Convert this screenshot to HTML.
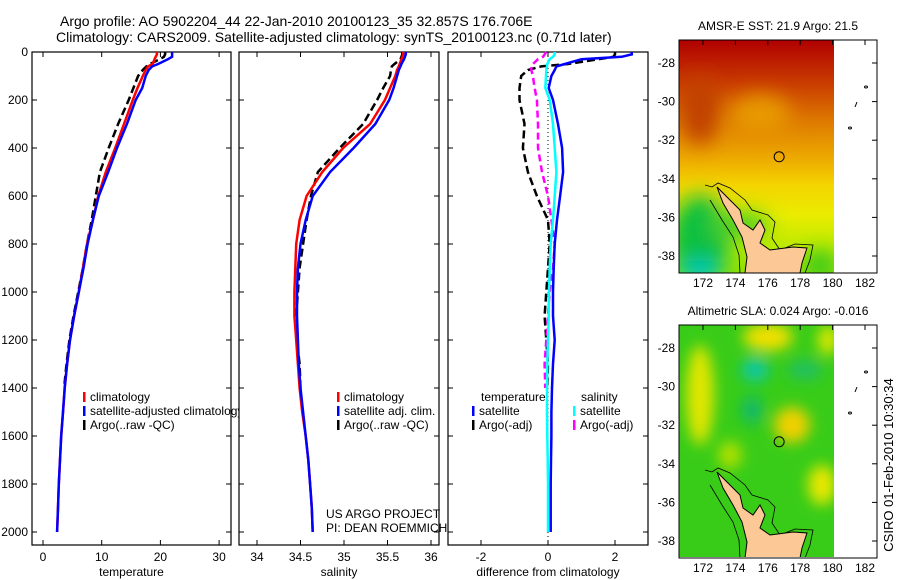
<!DOCTYPE html>
<html><head><meta charset="utf-8"><style>
html,body{margin:0;padding:0;background:#fff}
svg{display:block;font-family:"Liberation Sans",sans-serif}
</style></head><body>
<svg id="fig" width="900" height="580" viewBox="0 0 900 580" xmlns="http://www.w3.org/2000/svg">
<defs>
<filter id="blur" x="-20%" y="-20%" width="140%" height="140%"><feGaussianBlur stdDeviation="10"/></filter>
<filter id="blur2" x="-20%" y="-20%" width="140%" height="140%"><feGaussianBlur stdDeviation="7"/></filter>
<linearGradient id="sstg" x1="0" y1="0" x2="0" y2="1">
<stop offset="0" stop-color="#b00000"/><stop offset="0.18" stop-color="#c83a00"/><stop offset="0.35" stop-color="#de7a00"/>
<stop offset="0.52" stop-color="#eeae00"/><stop offset="0.62" stop-color="#f4d400"/><stop offset="0.75" stop-color="#eaec00"/>
<stop offset="0.88" stop-color="#c0ea00"/><stop offset="1" stop-color="#90e000"/></linearGradient>
<clipPath id="m1clip"><rect x="679" y="40" width="155" height="233"/></clipPath>
<clipPath id="m2clip"><rect x="679" y="325" width="155" height="232"/></clipPath>
</defs>
<text x="60" y="26" font-size="14">Argo profile: AO 5902204_44 22-Jan-2010 20100123_35 32.857S 176.706E</text>
<text x="56" y="42" font-size="14">Climatology: CARS2009. Satellite-adjusted climatology: synTS_20100123.nc (0.71d later)</text>
<g id="panels"></g>
<g id="maps"></g>
<text x="0" y="0" font-size="13" text-anchor="middle" transform="translate(893,465) rotate(-90)">CSIRO 01-Feb-2010 10:30:34</text>
</svg>
<script>
// ---- data ----
const depths = [0,10,20,30,50,60,75,100,150,200,300,400,500,600,700,800,900,1000,1100,1200,1300,1400,1500,1600,1700,1800,1900,2000];
const tempClim = [19.4,19.4,19.2,19.0,18.7,17.9,17.5,17.0,16.1,15.3,13.8,12.3,10.7,9.4,8.5,7.5,6.8,6.1,5.3,4.6,4.1,3.7,3.4,3.1,2.9,2.7,2.55,2.4];
const tempSat  = [22.0,22.0,22.0,21.3,19.6,18.6,18.0,17.5,16.9,15.8,14.3,12.6,11.1,9.5,8.5,7.6,6.9,6.1,5.3,4.6,4.1,3.7,3.4,3.1,2.9,2.7,2.55,2.4];
const tempArgo = [20.8,20.8,20.6,19.9,18.2,17.6,17.0,16.2,15.4,14.6,12.8,11.2,9.7,9.0,8.3,7.5,6.8,6.0,5.2,4.5,4.0,3.6];
const salClim = [35.68,35.68,35.67,35.66,35.64,35.63,35.61,35.59,35.53,35.47,35.30,34.99,34.75,34.57,34.49,34.45,34.44,34.43,34.43,34.45,34.47,34.49,34.52,34.56,34.59,34.61,34.63,34.64];
const salSat  = [35.71,35.71,35.70,35.69,35.66,35.65,35.63,35.61,35.57,35.52,35.36,35.11,34.84,34.64,34.56,34.50,34.47,34.46,34.46,34.47,34.48,34.50,34.53,34.56,34.59,34.61,34.63,34.64];
const salArgo = [35.67,35.67,35.66,35.65,35.58,35.55,35.54,35.53,35.45,35.38,35.22,34.95,34.70,34.62,34.57,34.53,34.49,34.47,34.45,34.46,34.49,34.50];
const dTempSat  = [2.5,2.5,2.2,1.0,0.5,0.25,0.2,0.1,0.02,0.15,0.3,0.42,0.45,0.36,0.27,0.2,0.17,0.15,0.15,0.2,0.15,0.12,0.1,0.1,0.09,0.08,0.08,0.08];
const dTempArgo = [2.0,2.0,1.95,1.5,0.6,-0.2,-0.6,-0.8,-0.85,-0.85,-0.7,-0.75,-0.6,-0.33,0.0,0.05,0.0,-0.05,-0.1,-0.05,0.0,-0.02];
const dSalSat  = [0.2,0.2,0.15,0.05,-0.02,-0.03,-0.05,-0.06,-0.08,0.05,0.15,0.2,0.25,0.2,0.15,0.08,0.05,0.03,0.02,0.0,-0.02,-0.03,-0.03,-0.02,-0.01,0.0,0.0,0.0];
const dSalArgo = [-0.05,-0.1,-0.15,-0.3,-0.45,-0.5,-0.5,-0.45,-0.4,-0.33,-0.3,-0.3,-0.18,0.0,0.1,0.2,0.15,0.05,0.0,-0.05,-0.1,-0.08];
const depthTicks = [0,200,400,600,800,1000,1200,1400,1600,1800,2000];
const tempTicks = [0,10,20,30];
const salTicks = [34,34.5,35,35.5,36];
const diffTicks = [-2,0,2];
const latTicks = [-28,-30,-32,-34,-36,-38];
const lonTicks = [172,174,176,178,180,182];

const NS = "http://www.w3.org/2000/svg";
function mk(tag, attrs, parent){const e=document.createElementNS(NS,tag);for(const k in attrs)e.setAttribute(k,attrs[k]);parent.appendChild(e);return e;}
const yD = d => 52 + d*0.24;
const panelsG = document.getElementById('panels');

function panel(name, x0, x1, xs, ticks, title, ylabels){
  const g = mk('g',{},panelsG);
  
  
  const r = mk('rect',{x:x0,y:52,width:x1-x0,height:493,fill:'#fff',stroke:'#000','stroke-width':1.2},g);
  
  
  ticks.forEach(t=>{
    const x=xs(t);
    mk('line',{x1:x,x2:x,y1:52,y2:57,stroke:'#000'},g);
    mk('line',{x1:x,x2:x,y1:545,y2:540,stroke:'#000'},g);
    const tl = mk('text',{x:x,y:561,'font-size':12,'text-anchor':'middle'},g);
    tl.textContent = t;
    
    
  });
  depthTicks.forEach(d=>{
    const y=yD(d);
    mk('line',{x1:x0,x2:x0+5,y1:y,y2:y,stroke:'#000'},g);
    mk('line',{x1:x1,x2:x1-5,y1:y,y2:y,stroke:'#000'},g);
    if(ylabels){
      const tl = mk('text',{x:28,y:y+4,'font-size':12,'text-anchor':'end'},g);
      tl.textContent = d;
      
      
    }
  });
  const at = mk('text',{x:(x0+x1)/2,y:576,'font-size':12,'text-anchor':'middle'},g);
  at.textContent = title;
  
  
  return g;
}
function series(g, name, vals, xs, color, dash, w){
  const pts = vals.map((v,i)=>xs(v).toFixed(1)+','+yD(depths[i]).toFixed(1)).join(' ');
  const p = mk('polyline',{points:pts,fill:'none',stroke:color,'stroke-width':w||2.5},g);
  if(dash) p.setAttribute('stroke-dasharray', dash);
  
  
}
function legendRow(g, name, x, y, color, label){
  const m = mk('rect',{x:x,y:y-6,width:2.5,height:10,fill:color},g);
  
  
  const t = mk('text',{x:x+7,y:y+3,'font-size':12},g);
  t.textContent = label;
  
  
}

// temperature
const xT = v => 43 + v*5.87;
const g1 = panel('temperature-panel',32,231,xT,tempTicks,'temperature',true);
series(g1,'temp-argo-line',tempArgo,xT,'#000','8,4');
series(g1,'temp-climatology-line',tempClim,xT,'#f00');
series(g1,'temp-satellite-line',tempSat,xT,'#00f');
legendRow(g1,'legend-climatology',83,398,'#f00','climatology');
legendRow(g1,'legend-satellite-adjusted',83,412,'#00f','satellite-adjusted climatology');
legendRow(g1,'legend-argo',83,426,'#000','Argo(..raw -QC)');

// salinity
const xS = v => 257 + (v-34)*87;
const g2 = panel('salinity-panel',239,439,xS,salTicks,'salinity',false);
series(g2,'sal-argo-line',salArgo,xS,'#000','8,4');
series(g2,'sal-climatology-line',salClim,xS,'#f00');
series(g2,'sal-satellite-line',salSat,xS,'#00f');
legendRow(g2,'legend-sal-climatology',337,398,'#f00','climatology');
legendRow(g2,'legend-sal-satellite',337,412,'#00f','satellite adj. clim.');
legendRow(g2,'legend-sal-argo',337,426,'#000','Argo(..raw -QC)');
const p1 = mk('text',{x:326,y:518,'font-size':12},g2); p1.textContent='US ARGO PROJECT';
 
const p2 = mk('text',{x:326,y:532,'font-size':12},g2); p2.textContent='PI: DEAN ROEMMICH';
 

// difference
const xDf = v => 548 + v*33.5;
const g3 = panel('difference-panel',448,648,xDf,diffTicks,'difference from climatology',false);
const zl = mk('line',{x1:xDf(0),x2:xDf(0),y1:52,y2:545,stroke:'#000','stroke-dasharray':'1,3'},g3);
 
series(g3,'diff-temp-argo-line',dTempArgo,xDf,'#000','8,4');
series(g3,'diff-sal-argo-line',dSalArgo,xDf,'#f0f','7,4');
series(g3,'diff-temp-satellite-line',dTempSat,xDf,'#00f');
series(g3,'diff-sal-satellite-line',dSalSat,xDf,'#0ff');
const lt = mk('text',{x:481,y:401,'font-size':12},g3); lt.textContent='temperature';
 
const ls = mk('text',{x:581,y:401,'font-size':12},g3); ls.textContent='salinity';
 
legendRow(g3,'legend-temp-satellite',472,412,'#00f','satellite');
legendRow(g3,'legend-temp-argo',472,426,'#000','Argo(-adj)');
legendRow(g3,'legend-sal-satellite-diff',573,412,'#0ff','satellite');
legendRow(g3,'legend-sal-argo-diff',573,426,'#f0f','Argo(-adj)');

// ---- maps ----
const mapsG = document.getElementById('maps');
const landPts = [[717,187],[727,197],[740,210],[743,223],[753,230],[760,220],[765,230],[760,243],[770,250],[793,247],[807,248],[802,263],[800,273],[745,273],[747,257],[742,237],[733,220],[723,203]];
const shelfPts = [[705,185],[712,187],[718,183],[730,188],[745,200],[752,210],[768,215],[775,222],[772,238],[780,250],[795,244],[813,245],[810,260],[805,273],[740,273],[739,255],[733,237],[722,220],[710,200]];
function mapPanel(name, off, title, fill){
  const g = mk('g',{},mapsG);
  
  
  const tt = mk('text',{x:778,y:off-10,'font-size':12,'text-anchor':'middle'},g);
  tt.textContent = title;
  
  
  const inner = mk('g',{'clip-path':'url(#'+(off<100?'m1clip':'m2clip')+')'},g);
  fill(inner, off);
  const sh = shelfPts.map(p=>p[0]+','+(p[1]+off-40)).join(' ');
  mk('polyline',{points:sh,fill:'none',stroke:'#000','stroke-width':0.8},inner);
  const lp = landPts.map(p=>p[0]+','+(p[1]+off-40)).join(' ');
  const land = mk('polygon',{points:lp,fill:'#fcc896',stroke:'#000','stroke-width':1},inner);
   
  mk('rect',{x:679,y:off,width:198,height:233,fill:'none',stroke:'#000','stroke-width':1},g);
  const yL = lat => off + 23 + (-28-lat)*19.3;
  const xL = lon => 703 + (lon-172)*16.2;
  latTicks.forEach(l=>{
    const y=yL(l);
    mk('line',{x1:877,x2:872,y1:y,y2:y,stroke:'#000'},g);
    const t = mk('text',{x:675,y:y+4,'font-size':12,'text-anchor':'end'},g);
    t.textContent = l;
     
  });
  lonTicks.forEach(l=>{
    const x=xL(l);
    mk('line',{x1:x,x2:x,y1:off,y2:off+5,stroke:'#000'},g);
    const t = mk('text',{x:x,y:off+247,'font-size':12,'text-anchor':'middle'},g);
    t.textContent = l;
     
  });
  // islands
  mk('ellipse',{cx:866,cy:off+47,rx:1.5,ry:1,fill:'none',stroke:'#000'},g);
  mk('line',{x1:857,y1:off+62,x2:855,y2:off+67,stroke:'#000'},g);
  mk('ellipse',{cx:850,cy:off+88,rx:1.5,ry:1,fill:'none',stroke:'#000'},g);
  const c = mk('circle',{cx:xL(176.7),cy:yL(-32.86),r:5,fill:'none',stroke:'#000','stroke-width':1},g);
   
}
mapPanel('sst-map',40,'AMSR-E SST: 21.9 Argo: 21.5',(g,off)=>{
  mk('rect',{x:679,y:off,width:155,height:233,fill:'url(#sstg)'},g);
  const b = mk('g',{filter:'url(#blur)'},g);
  mk('ellipse',{cx:700,cy:off+70,rx:18,ry:35,fill:'#c04000'},b);
  mk('ellipse',{cx:760,cy:off+75,rx:30,ry:20,fill:'#e89a00'},b);
  mk('ellipse',{cx:700,cy:off+200,rx:30,ry:45,fill:'#10c040'},b);
  mk('ellipse',{cx:740,cy:off+185,rx:30,ry:14,fill:'#50d020'},b);
  mk('ellipse',{cx:820,cy:off+225,rx:15,ry:15,fill:'#30c820'},b);
  mk('ellipse',{cx:700,cy:off+232,rx:20,ry:12,fill:'#00c8c0'},b);
});
mapPanel('sla-map',325,'Altimetric SLA: 0.024 Argo: -0.016',(g,off)=>{
  mk('rect',{x:679,y:off,width:155,height:233,fill:'#38cc18'},g);
  const b = mk('g',{filter:'url(#blur2)'},g);
  mk('ellipse',{cx:768,cy:off+12,rx:25,ry:14,fill:'#f0e000'},b);
  mk('ellipse',{cx:828,cy:off+15,rx:10,ry:15,fill:'#e0e800'},b);
  mk('ellipse',{cx:700,cy:off+70,rx:14,ry:50,fill:'#e0e600'},b);
  mk('ellipse',{cx:792,cy:off+100,rx:18,ry:18,fill:'#f0d000'},b);
  mk('ellipse',{cx:822,cy:off+160,rx:14,ry:20,fill:'#e8e800'},b);
  mk('ellipse',{cx:730,cy:off+130,rx:12,ry:14,fill:'#b0e000'},b);
  mk('ellipse',{cx:755,cy:off+45,rx:14,ry:12,fill:'#10c8a0'},b);
  mk('ellipse',{cx:752,cy:off+85,rx:10,ry:14,fill:'#10b870'},b);
  mk('ellipse',{cx:805,cy:off+45,rx:18,ry:10,fill:'#20c060'},b);
});
</script>
</body></html>
